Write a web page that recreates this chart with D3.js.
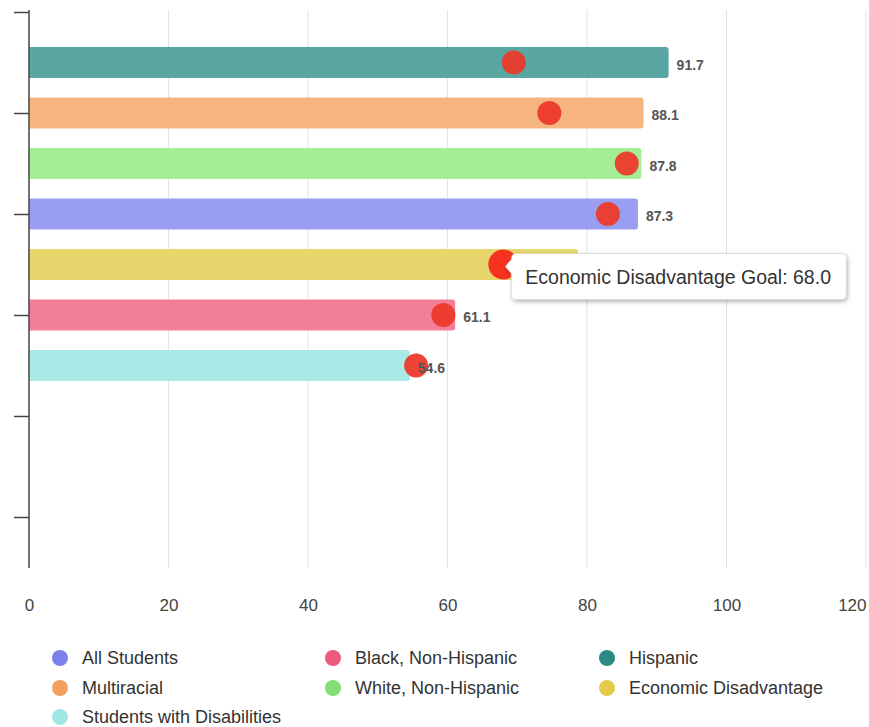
<!DOCTYPE html>
<html>
<head>
<meta charset="utf-8">
<script src="https://cdn.jsdelivr.net/npm/d3@7"></script>
<style>
  html, body { margin: 0; padding: 0; background: #fff; }
  svg { display: block; font-family: "Liberation Sans", Arial, sans-serif; }
</style>
</head>
<body>
<svg id="chart" width="869" height="727"></svg>
<script>
// Student groups, in legend order
const groups = ["All Students", "Black, Non-Hispanic", "Hispanic", "Multiracial",
                "White, Non-Hispanic", "Economic Disadvantage", "Students with Disabilities"];
// Actual rate for each group
const rates = [87.3, 61.1, 91.7, 88.1, 87.8, 78.7, 54.6];
// Goal for each group
const goals = [83.0, 59.4, 69.5, 74.6, 85.7, 68.0, 55.5];
// Bar colours and legend marker colours
const barColors = ["#9a9ef0", "#f27e98", "#5aa6a2", "#f6b57f", "#a6ee96", "#e6d66c", "#a9e9e6"];
const legendColors = ["#7b80ea", "#ec5a7c", "#2b8a86", "#f39f60", "#80e072", "#e3ca4b", "#a2e6e2"];
const xTicks = [0, 20, 40, 60, 80, 100, 120];
const highlighted = "Economic Disadvantage";

(function () {
const svg = d3.select("#chart");
const mLeft = 29, mRight = 866, mTop = 10, mBottom = 568;

const x = d3.scaleLinear().domain([0, 120]).range([mLeft, mRight]);
// Row scale: 11 slots, bars occupy slots 1..7
const y = d3.scaleLinear().domain([0, 11]).range([12, 567.5]);

const rows = groups.map((g, i) => ({ group: g, rate: rates[i], goal: goals[i],
  color: barColors[i] }))
  .sort((a, b) => b.rate - a.rate)
  .map((d, i) => Object.assign(d, { slot: i + 1 }));

// Vertical grid lines
svg.append("g").selectAll("line").data(xTicks.slice(1)).join("line")
  .attr("x1", d => x(d)).attr("x2", d => x(d))
  .attr("y1", mTop).attr("y2", mBottom)
  .attr("stroke", "#e3e3e3").attr("stroke-width", 1);

// X axis labels (last one kept inside the edge)
const xAxis = d3.axisBottom(x).tickValues(xTicks).tickSize(0).tickPadding(31);
svg.append("g").attr("transform", `translate(0,${mBottom})`).call(xAxis)
  .call(g => g.select(".domain").remove())
  .call(g => g.selectAll("text").attr("font-size", 17).attr("fill", "#444")
    .attr("font-family", "'Liberation Sans', Arial, sans-serif"))
  .call(g => g.selectAll(".tick").filter(d => d === 120).select("text")
    .attr("text-anchor", "end").attr("x", 0));

// Bars
const barH = 31;
svg.append("g").selectAll("path").data(rows).join("path")
  .attr("fill", d => d.color)
  .attr("d", d => {
    const x0 = x(0), x1 = x(d.rate), y0 = y(d.slot) - barH / 2, r = 3;
    return `M${x0},${y0}H${x1 - r}Q${x1},${y0} ${x1},${y0 + r}V${y0 + barH - r}` +
           `Q${x1},${y0 + barH} ${x1 - r},${y0 + barH}H${x0}Z`;
  });

// Y axis with ticks every other slot
const yAxis = d3.axisLeft(y).tickValues([0, 2, 4, 6, 8, 10]).tickSize(15).tickFormat("");
svg.append("g").attr("transform", `translate(${mLeft},0)`).call(yAxis)
  .call(g => g.select(".domain").attr("stroke", "#444").attr("stroke-width", 1.5)
    .attr("d", `M0,${mTop}V${mBottom}`))
  .call(g => g.selectAll(".tick line").attr("stroke", "#444").attr("stroke-width", 1.5));

// Goal markers
svg.append("g").selectAll("circle").data(rows).join("circle")
  .attr("cx", d => x(d.goal)).attr("cy", d => y(d.slot))
  .attr("r", d => d.group === highlighted ? 15 : 12)
  .attr("fill", d => d.group === highlighted ? "#f52a1c" : "#ec3a2b")
  .attr("fill-opacity", 0.95);

// Value labels, drawn over the markers
svg.append("g").selectAll("text").data(rows.filter(d => d.group !== highlighted)).join("text")
  .attr("x", d => x(d.rate) + 8).attr("y", d => y(d.slot) + 7)
  .attr("font-size", 14).attr("font-weight", "bold").attr("fill", "#555")
  .text(d => d3.format(".1f")(d.rate));

// Tooltip for the highlighted goal
const hl = rows.find(d => d.group === highlighted);
const tx = x(hl.goal) + 2, ty = y(hl.slot);
const defs = svg.append("defs");
const f = defs.append("filter").attr("id", "shadow").attr("x", "-10%").attr("y", "-30%")
  .attr("width", "120%").attr("height", "170%");
f.append("feDropShadow").attr("dx", 1).attr("dy", 2).attr("stdDeviation", 2)
  .attr("flood-color", "#000").attr("flood-opacity", 0.3);
const bx = x(hl.goal) + 8, by = ty - 11, bw = 335, bh = 46, rr = 5;
svg.append("path")
  .attr("filter", "url(#shadow)")
  .attr("fill", "#fff").attr("stroke", "#ccc").attr("stroke-width", 0.6)
  .attr("d", `M${bx + rr},${by}H${bx + bw - rr}Q${bx + bw},${by} ${bx + bw},${by + rr}` +
    `V${by + bh - rr}Q${bx + bw},${by + bh} ${bx + bw - rr},${by + bh}H${bx + rr}` +
    `Q${bx},${by + bh} ${bx},${by + bh - rr}V${by + 20}L${tx},${ty + 2}L${bx},${by + 6}` +
    `Q${bx},${by} ${bx + rr},${by}Z`);
svg.append("text").attr("x", bx + 14).attr("y", by + 30)
  .attr("font-size", 19.5).attr("fill", "#333")
  .text(`${hl.group} Goal: ${d3.format(".1f")(hl.goal)}`);

// Legend
const legend = svg.append("g");
const colX = [60, 333, 607], rowY = [658, 688, 717];
groups.forEach((g, i) => {
  const cx = colX[i % 3], cy = rowY[Math.floor(i / 3)];
  legend.append("circle").attr("cx", cx).attr("cy", cy).attr("r", 8)
    .attr("fill", legendColors[i]);
  legend.append("text").attr("x", cx + 22).attr("y", cy + 6)
    .attr("font-size", 18).attr("fill", "#333").text(g);
});
})();
</script>
</body>
</html>
